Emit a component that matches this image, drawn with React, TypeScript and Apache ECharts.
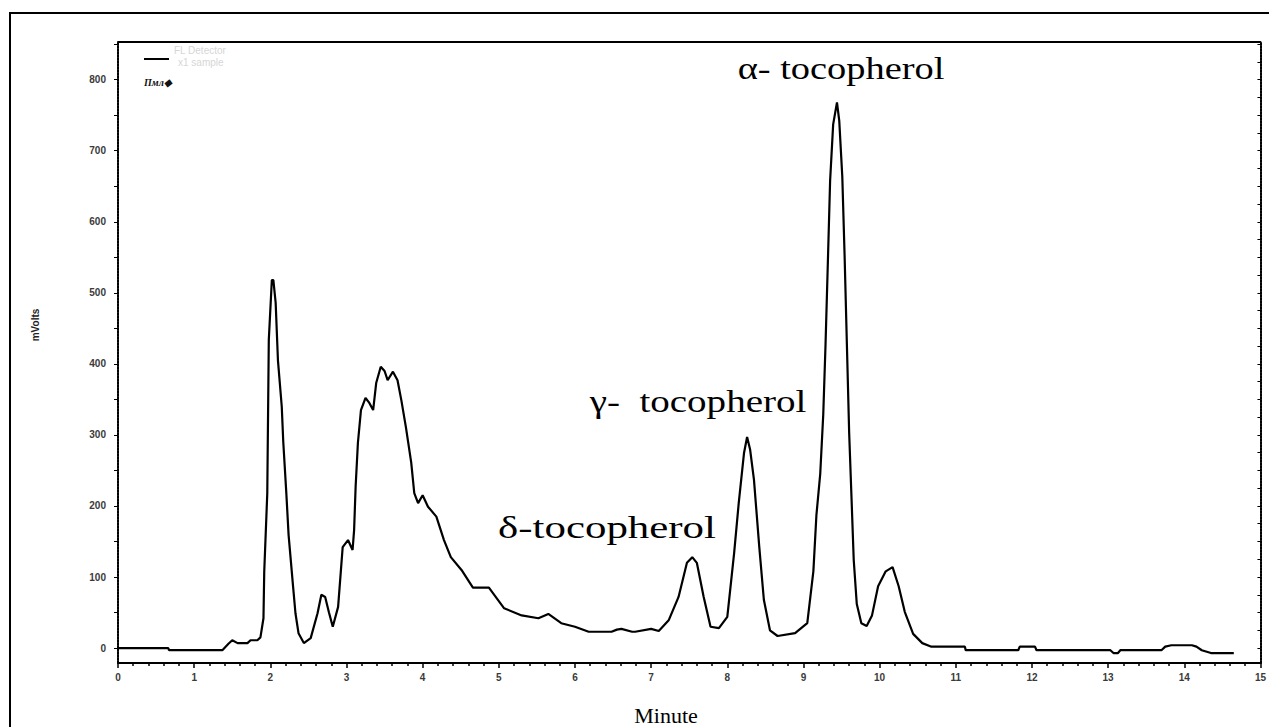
import React, { useEffect, useRef } from "react";
import * as echarts from "echarts";

// Retention time (minutes) and detector signal (mV)
const times: number[] = [
  0, 0.66, 0.67, 1.37, 1.45, 1.5, 1.57, 1.7, 1.74, 1.83, 1.87, 1.91, 1.92, 1.96, 1.98, 2.02, 2.04,
  2.07, 2.1, 2.15, 2.17, 2.21, 2.24, 2.3, 2.33, 2.37, 2.44, 2.53, 2.62, 2.67, 2.72, 2.77, 2.82,
  2.89, 2.95, 3.02, 3.08, 3.1, 3.12, 3.15, 3.19, 3.25, 3.3, 3.35, 3.39, 3.45, 3.5, 3.54, 3.61,
  3.67, 3.72, 3.78, 3.85, 3.89, 3.94, 4.0, 4.07, 4.18, 4.28, 4.37, 4.51, 4.66, 4.87, 5.07, 5.3,
  5.52, 5.65, 5.82, 6.0, 6.18, 6.48, 6.55, 6.61, 6.75, 6.79, 7.0, 7.1, 7.23, 7.36, 7.47, 7.54,
  7.6, 7.69, 7.78, 7.89, 8.0, 8.09, 8.15, 8.22, 8.26, 8.3, 8.35, 8.42, 8.48, 8.56, 8.66, 8.89,
  9.05, 9.13, 9.17, 9.22, 9.26, 9.29, 9.32, 9.35, 9.39, 9.44, 9.47, 9.51, 9.54, 9.57, 9.6, 9.63,
  9.66, 9.7, 9.76, 9.83, 9.9, 9.98, 10.08, 10.17, 10.25, 10.33, 10.44, 10.56, 10.68, 11.12,
  11.13, 11.82, 11.84, 12.04, 12.06, 13.03, 13.07, 13.13, 13.16, 13.7, 13.75, 13.83, 14.1, 14.16,
  14.23, 14.35, 14.65,
];
const signal: number[] = [
  0, 0, -3, -3, 6, 11, 7, 7, 11, 11, 15, 42, 107, 218, 434, 518, 518,
  486, 405, 340, 290, 218, 159, 85, 49, 21, 7, 14, 49, 75, 72, 50, 30,
  58, 142, 152, 138, 166, 227, 289, 335, 352, 345, 335, 373, 396, 390, 377, 389,
  377, 349, 311, 261, 218, 204, 215, 199, 185, 152, 128, 110, 85, 85, 56, 46,
  42, 48, 35, 30, 23, 23, 26, 27, 23, 23, 27, 24, 39, 72, 120, 128,
  120, 72, 30, 28, 44, 134, 204, 275, 297, 279, 237, 142, 68, 25, 17, 21,
  35, 108, 187, 245, 329, 428, 542, 658, 737, 768, 742, 663, 553, 428, 303, 214,
  124, 62, 35, 31, 46, 87, 108, 114, 87, 51, 20, 7, 2, 2,
  -3, -3, 2, 2, -3, -3, -7, -7, -3, -3, 2, 4, 4, 2,
  -3, -7, -7,
];

const xTickLabels: number[] = [0, 1, 2, 3, 4, 5, 6, 7, 8, 9, 10, 11, 12, 13, 14, 15];
const yTickLabels: number[] = [0, 100, 200, 300, 400, 500, 600, 700, 800];
const yMinorTicks: number[] = [0, 50, 100, 150, 200, 250, 300, 350, 400, 450, 500, 550, 600, 650, 700, 750, 800, 850];
const yRightTicks: number[] = [
  -20, 0, 25, 50, 75, 100, 125, 150, 175, 200, 225, 250, 275, 300, 325, 350, 375, 400, 425, 450,
  475, 500, 525, 550, 575, 600, 625, 650, 675, 700, 725, 750, 775, 800, 825, 850,
];

const peakNames: string[] = ["δ-tocopherol", "γ-  tocopherol", "α- tocopherol"];
const axisNames = { x: "Minute", y: "mVolts" };

export default function App() {
  const ref = useRef<HTMLDivElement>(null);

  useEffect(() => {
    document.body.style.margin = "0";
    document.body.style.overflow = "hidden";
    document.documentElement.style.overflow = "hidden";
    if (!ref.current) return;
    const chart = echarts.init(ref.current, null, { renderer: "svg" });

    const tickFont = {
      fontFamily: "Liberation Sans, Arial, sans-serif",
      fontSize: 10,
      fontWeight: "bold" as const,
      color: "#3a3a3a",
    };
    const peakFont = {
      fontFamily: "Liberation Serif, Times New Roman, serif",
      fontSize: 32,
      fill: "#000",
      align: "center" as const,
      verticalAlign: "middle" as const,
    };

    chart.setOption({
      animation: false,
      backgroundColor: "#ffffff",
      grid: { left: 118, right: 8, top: 42, bottom: 64, containLabel: false },
      xAxis: [
        {
          type: "value",
          min: 0,
          max: 15,
          interval: 1,
          position: "bottom",
          axisLine: { show: true, onZero: false, lineStyle: { color: "#000", width: 2 } },
          axisTick: { show: true, inside: false, length: 5, lineStyle: { color: "#000", width: 1.5 } },
          minorTick: { show: true, splitNumber: 5, length: 3, lineStyle: { color: "#000", width: 1.5 } },
          splitLine: { show: false },
          axisLabel: {
            ...tickFont,
            margin: 9,
            customValues: xTickLabels,
            formatter: (v: number) => String(v),
          },
        },
        {
          type: "value",
          min: 0,
          max: 15,
          position: "top",
          axisLine: { show: true, onZero: false, lineStyle: { color: "#000", width: 2 } },
          axisTick: { show: false },
          axisLabel: { show: false },
          splitLine: { show: false },
        },
      ],
      yAxis: [
        {
          type: "value",
          min: -21,
          max: 853,
          position: "left",
          axisLine: { show: true, onZero: false, lineStyle: { color: "#000", width: 2, type: [2, 1] } },
          axisTick: {
            show: true,
            inside: false,
            length: 4,
            customValues: yMinorTicks,
            lineStyle: { color: "#000", width: 1 },
          },
          splitLine: { show: false },
          axisLabel: {
            ...tickFont,
            margin: 12,
            customValues: yTickLabels,
            formatter: (v: number) => String(v),
          },
        },
        {
          type: "value",
          min: -21,
          max: 853,
          position: "right",
          axisLine: { show: true, onZero: false, lineStyle: { color: "#000", width: 2, type: [2, 1] } },
          axisTick: {
            show: true,
            inside: true,
            length: 3,
            customValues: yRightTicks,
            lineStyle: { color: "#000", width: 1 },
          },
          axisLabel: { show: false },
          splitLine: { show: false },
        },
      ],
      series: [
        {
          type: "line",
          xAxisIndex: 0,
          yAxisIndex: 0,
          data: times.map((t, i) => [t, signal[i]]),
          showSymbol: false,
          symbol: "none",
          smooth: false,
          lineStyle: { color: "#000", width: 2.2 },
          silent: true,
        },
      ],
      graphic: [
        // outer frame (its right and bottom edges fall outside the picture)
        {
          type: "line",
          shape: { x1: 10, y1: 12, x2: 10, y2: 727 },
          style: { stroke: "#000", lineWidth: 2 },
          silent: true,
          z: 100,
        },
        {
          type: "line",
          shape: { x1: 9, y1: 13, x2: 1269, y2: 13 },
          style: { stroke: "#000", lineWidth: 2 },
          silent: true,
          z: 100,
        },
        // legend remnants
        {
          type: "line",
          shape: { x1: 144, y1: 59, x2: 169, y2: 59 },
          style: { stroke: "#000", lineWidth: 2 },
        },
        {
          type: "text",
          left: 174,
          top: 45,
          style: { text: "FL Detector", fill: "#d6d6d6", fontSize: 10, fontFamily: "Liberation Sans, sans-serif" },
        },
        {
          type: "text",
          left: 178,
          top: 57,
          style: { text: "x1 sample", fill: "#d6d6d6", fontSize: 10, fontFamily: "Liberation Sans, sans-serif" },
        },
        {
          type: "text",
          left: 144,
          top: 77,
          style: {
            text: "Πмл◆",
            fill: "#111",
            fontSize: 10,
            fontWeight: "bold",
            fontStyle: "italic",
            fontFamily: "Liberation Serif, serif",
          },
        },
        // axis names
        {
          type: "text",
          x: 666,
          y: 715,
          style: {
            text: axisNames.x,
            fill: "#000",
            fontSize: 22,
            fontFamily: "Liberation Serif, Times New Roman, serif",
            align: "center",
            verticalAlign: "middle",
          },
        },
        {
          type: "text",
          x: 35,
          y: 325,
          rotation: Math.PI / 2,
          style: {
            text: axisNames.y,
            fill: "#222",
            fontSize: 10,
            fontWeight: "bold",
            fontFamily: "Liberation Sans, Arial, sans-serif",
            align: "center",
            verticalAlign: "middle",
          },
        },
        // peak labels
        { type: "text", x: 607, y: 527, scaleX: 1.34, style: { text: peakNames[0], ...peakFont } },
        { type: "text", x: 698, y: 401, scaleX: 1.22, style: { text: peakNames[1], ...peakFont } },
        { type: "text", x: 841, y: 69, scaleX: 1.2, style: { text: peakNames[2], ...peakFont } },
      ],
    });

    return () => chart.dispose();
  }, []);

  return <div ref={ref} style={{ width: 1269, height: 727 }} />;
}
